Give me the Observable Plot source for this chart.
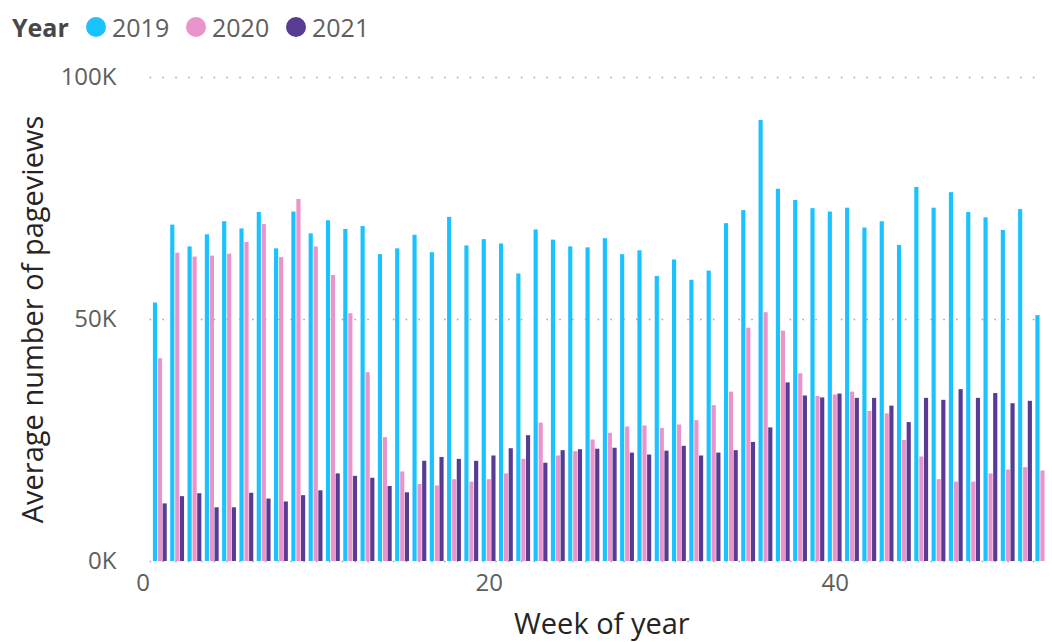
<!DOCTYPE html>
<html>
<head>
<meta charset="utf-8">
<script src="https://cdn.jsdelivr.net/npm/d3@7"></script>
<script src="https://cdn.jsdelivr.net/npm/@observablehq/plot@0.6"></script>
<style>
  html, body { margin: 0; padding: 0; background: #fff; }
  body { width: 1052px; height: 642px; overflow: hidden; font-family: "Segoe UI", "Open Sans", sans-serif; }
  #legend { height: 55px; position: relative; font-size: 25px; color: #605E5C; }
  #legend .title { position: absolute; left: 12px; top: 10px; font-weight: bold; color: #484848; }
  #legend .item { position: absolute; top: 10px; display: flex; align-items: center; }
  #legend .dot { width: 20px; height: 20px; border-radius: 50%; margin-right: 6px; }
  svg { display: block; overflow: visible; }
</style>
</head>
<body>
<div id="legend"></div>
<div id="chart"></div>
<script>
const years = ["2019", "2020", "2021"];
const colors = ["#1AC2FF", "#EB93CB", "#583C94"];
const legendX = [86, 186, 286];

// Average pageviews in thousands, weeks 1..n
const v2019 = [53.4,69.5,65.0,67.5,70.2,68.7,72.1,64.6,72.2,67.7,
               70.4,68.6,69.2,63.4,64.6,67.4,63.8,71.1,65.2,66.5,
               65.6,59.4,68.5,66.4,65.0,64.8,66.7,63.4,64.2,58.9,
               62.3,58.1,60.0,69.8,72.5,91.1,76.9,74.6,72.9,72.2,
               73.0,68.9,70.2,65.3,77.3,73.0,76.2,72.1,71.0,68.4,
               72.7,50.8,62.6];
const v2020 = [41.9,63.7,62.9,63.1,63.5,65.9,69.6,62.8,74.8,65.0,
               59.1,51.2,39.0,25.6,18.5,15.9,15.6,16.9,16.4,16.9,
               18.1,21.1,28.6,21.8,22.7,25.1,26.5,27.8,28.0,27.5,
               28.2,29.1,32.2,35.0,48.2,51.4,47.6,38.8,34.1,34.4,
               35.0,31.0,30.5,25.0,21.6,16.9,16.4,16.4,18.1,18.9,
               19.4,18.7];
const v2021 = [11.9,13.4,14.0,11.1,11.1,14.1,12.9,12.3,13.6,14.6,
               18.1,17.6,17.2,15.5,14.2,20.7,21.5,21.1,20.7,21.8,
               23.3,26.0,20.3,22.9,23.1,23.2,23.4,22.4,22.0,22.8,
               23.8,21.8,22.4,22.9,24.6,27.6,36.9,34.2,33.8,34.6,
               33.7,33.7,32.1,28.7,33.7,33.3,35.5,33.7,34.7,32.6,
               33.1];
const yTicks = [0, 50, 100];
const xTicks = [0, 20, 40];

const series = [v2019, v2020, v2021];
const data = [];
series.forEach((vals, i) => vals.forEach((v, j) => data.push({year: years[i], idx: i, week: j + 1, value: v})));

// legend
const legend = document.getElementById("legend");
legend.innerHTML = `<span class="title">Year</span>` + years.map((y, i) =>
  `<span class="item" style="left:${legendX[i]}px"><span class="dot" style="background:${colors[i]}"></span>${y}</span>`).join("");

const offs = [-0.29, 0, 0.27];
const half = 0.12;

const chart = Plot.plot({
  width: 1052,
  height: 587,
  marginLeft: 142.7,
  marginRight: 0,
  marginTop: 22,
  marginBottom: 81,
  style: {fontFamily: "'Segoe UI', 'Open Sans', sans-serif", background: "#fff", overflow: "visible"},
  x: {domain: [0, 52.55], ticks: xTicks, label: null},
  y: {domain: [0, 100], ticks: yTicks, label: null},
  color: {domain: years, range: colors},
  marks: [
    Plot.ruleY(yTicks, {x1: 0.4, x2: 52, stroke: "#a8a8a8", strokeWidth: 1.6, strokeDasharray: "1.6,11.2"}),
    Plot.rectY(data, {
      x1: d => d.week + offs[d.idx] - half,
      x2: d => d.week + offs[d.idx] + half,
      y: "value",
      fill: "year",
      clip: true
    }),
    Plot.axisX({ticks: xTicks, tickSize: 0, tickPadding: 12, fontSize: 24, fill: "#605E5C", label: null}),
    Plot.axisY({ticks: yTicks, tickSize: 0, tickPadding: 26.7, fontSize: 24, fill: "#605E5C", tickFormat: d => d + "K", label: null}),
    Plot.text(["Week of year"], {frameAnchor: "bottom", dx: 4, dy: 63, fontSize: 29, fill: "#252423", lineAnchor: "middle"}),
    Plot.text(["Average number of pageviews"], {frameAnchor: "left", dx: -109.7, rotate: -90, fontSize: 29, fill: "#252423", textAnchor: "middle", lineAnchor: "middle"})
  ]
});
document.getElementById("chart").appendChild(chart);
</script>
</body>
</html>
